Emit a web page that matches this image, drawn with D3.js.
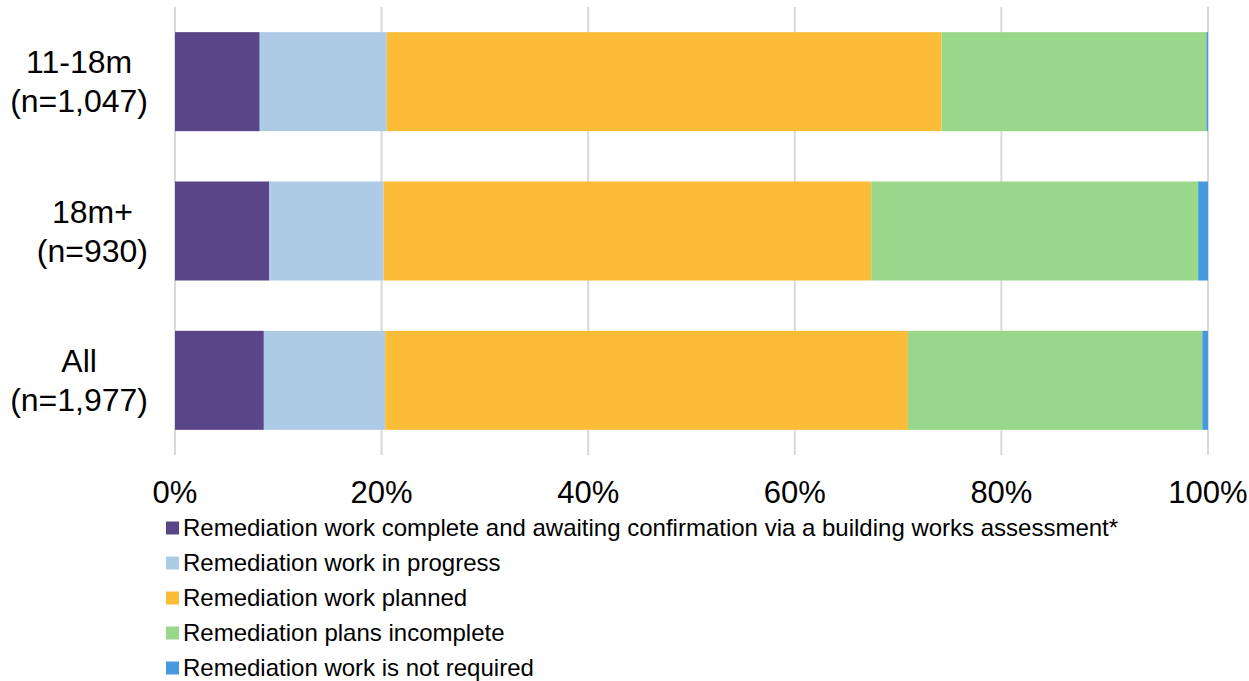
<!DOCTYPE html>
<html>
<head>
<meta charset="UTF-8"/>
<script src="https://cdn.jsdelivr.net/npm/d3@7"></script>
<style>
body { margin: 0; background: #fff; }
text { font-family: Arial, "Liberation Sans", sans-serif; fill: #000; }
</style>
</head>
<body>
<div id="chart"></div>
<script>
// data
var groups = [["11-18m", "(n=1,047)"], ["18m+", "(n=930)"], ["All", "(n=1,977)"]];
var series = [
  "Remediation work complete and awaiting confirmation via a building works assessment*",
  "Remediation work in progress",
  "Remediation work planned",
  "Remediation plans incomplete",
  "Remediation work is not required"
];
var complete   = [8.2, 9.1, 8.6];
var inProgress = [12.3, 11.1, 11.75];
var planned    = [53.7, 47.2, 50.6];
var incomplete = [25.65, 31.65, 28.5];
var notNeeded  = [0.15, 0.95, 0.55];
var ticks = [0, 20, 40, 60, 80, 100];
var colours = ["#5B4589", "#AECBE5", "#FBBC37", "#99D88B", "#4699DD"];

var W = 1249, H = 681;
var svg = d3.select("#chart").append("svg")
    .attr("width", W)
    .attr("height", H);

var x = d3.scaleLinear().domain([0, 100]).range([175, 1208]);
var y = d3.scaleBand().domain(d3.range(groups.length)).range([7, 455]).paddingInner(0.337).paddingOuter(0.1685);

// gridlines
svg.selectAll("line.grid").data(ticks).enter().append("line")
    .attr("x1", function(d) { return x(d); })
    .attr("x2", function(d) { return x(d); })
    .attr("y1", 7).attr("y2", 455)
    .attr("stroke", "#d9d9d9")
    .attr("stroke-width", 2);

// tick labels
svg.selectAll("text.tick").data(ticks).enter().append("text")
    .attr("x", function(d) { return x(d); })
    .attr("y", 503)
    .attr("text-anchor", "middle")
    .style("font-size", "31px")
    .text(function(d) { return d + "%"; });

// stacked bars
var rows = groups.map(function(g, i) {
  return [complete[i], inProgress[i], planned[i], incomplete[i], notNeeded[i]];
});
rows.forEach(function(vals, i) {
  var acc = 0;
  vals.forEach(function(v, j) {
    svg.append("rect")
      .attr("x", x(acc))
      .attr("y", y(i))
      .attr("width", x(acc + v) - x(acc))
      .attr("height", y.bandwidth())
      .attr("fill", colours[j]);
    acc += v;
  });
});

// category labels (lines centred, block right-aligned)
groups.forEach(function(g, i) {
  var cy = y(i) + y.bandwidth() / 2;
  var t = svg.append("g");
  var texts = g.map(function(line, k) {
    return t.append("text")
      .attr("y", cy + (k - 0.5) * 39 + 11)
      .attr("text-anchor", "middle")
      .style("font-size", "32px")
      .text(line);
  });
  var maxW = d3.max(texts, function(s) { return s.node().getComputedTextLength(); });
  texts.forEach(function(s) { s.attr("x", 148 - maxW / 2); });
});

// legend
var leg = svg.selectAll("g.leg").data(series).enter().append("g")
    .attr("transform", function(d, i) { return "translate(166," + (528 + i * 35) + ")"; });
leg.append("rect")
    .attr("x", 0).attr("y", -6.5)
    .attr("width", 13).attr("height", 13)
    .attr("fill", function(d, i) { return colours[i]; });
leg.append("text")
    .attr("x", 17).attr("y", 8)
    .style("font-size", "24px")
    .text(function(d) { return d; });
</script>
</body>
</html>
